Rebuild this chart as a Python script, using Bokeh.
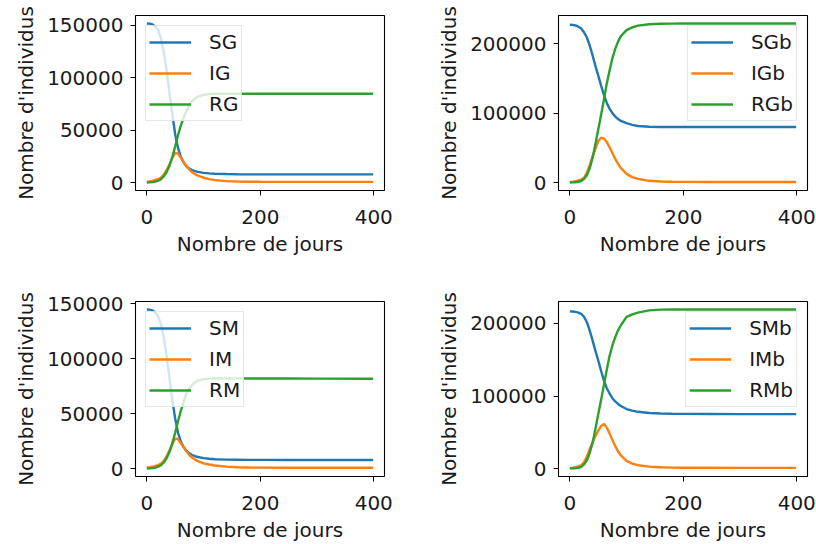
from bokeh.plotting import figure
from bokeh.layouts import column, row
from bokeh.models import Range1d, FixedTicker, BasicTickFormatter
from bokeh.embed import file_html
from bokeh.resources import INLINE

# ---- data ----
days = [0, 5, 10, 15, 20, 25, 30, 35, 40, 45, 50, 55, 60, 65, 70, 75, 80, 85, 90,
        100, 110, 120, 140, 160, 180, 200, 250, 300, 399]

SG = [151500, 151300, 150500, 148500, 145000, 137000, 124000, 106000, 85000, 65000,
      46000, 33000, 24500, 19000, 15300, 13200, 11800, 10800, 10100,
      9200, 8700, 8400, 8100, 7900, 7800, 7800, 7800, 7800, 7800]
IG = [800, 1100, 1600, 2400, 3200, 4800, 7500, 12000, 17500, 23500,
      28200, 27500, 23500, 19500, 15500, 12300, 9800, 8000, 6600,
      4600, 3200, 2300, 1400, 1000, 800, 700, 600, 600, 600]
RG = [0, 150, 400, 900, 1700, 3200, 6000, 10000, 16000, 24500,
      34500, 45000, 54500, 62000, 68500, 73500, 77500, 80000, 81800,
      83500, 84200, 84500, 84600, 84600, 84600, 84600, 84500, 84500, 84500]

SGb = [227300, 227100, 226300, 224500, 221800, 216500, 209000, 197500, 183500, 168500,
       154500, 140000, 126500, 115000, 106500, 100000, 95000, 91500, 88800,
       85500, 83000, 81500, 80400, 80100, 80000, 80000, 80000, 80000, 80000]
IGb = [1000, 1400, 2000, 3000, 4300, 6800, 14000, 25000, 37500, 48500,
       59500, 64500, 63500, 58500, 51000, 42500, 34000, 27000, 21000,
       12500, 7800, 5300, 2500, 1500, 1100, 900, 800, 800, 800]
RGb = [0, 200, 500, 1100, 2200, 5000, 10500, 20500, 35000, 55000,
       76000, 97000, 119000, 142000, 161000, 179000, 192500, 203000, 211000,
       219500, 223500, 226000, 228000, 228700, 229000, 229100, 229200, 229200, 229200]

SM = [144600, 144400, 143700, 141800, 138000, 131000, 119000, 102000, 82000, 62000,
      45500, 32500, 24500, 19500, 16000, 13800, 12300, 11200, 10500,
      9500, 8900, 8500, 8100, 8000, 7900, 7900, 7800, 7800, 7800]
IM = [900, 1200, 1600, 2300, 3100, 4500, 7000, 11200, 16500, 22500,
      27200, 26800, 23000, 19200, 15400, 12300, 9900, 8100, 6700,
      4700, 3700, 2800, 1700, 1200, 900, 800, 700, 700, 700]
RM = [0, 150, 400, 900, 1700, 3000, 5500, 9500, 15000, 23000,
      32500, 43000, 52500, 60500, 68500, 73000, 76000, 78500, 79800,
      81200, 81700, 81900, 82000, 82000, 81900, 81900, 81800, 81700, 81600]

SMb = [216600, 216400, 216000, 215000, 213300, 209000, 202000, 190500, 177000, 162500,
       149300, 135000, 121500, 111000, 103500, 97000, 92500, 89000, 86300,
       82000, 79800, 78200, 76500, 75800, 75500, 75300, 75100, 75000, 75000]
IMb = [900, 1300, 1900, 2900, 4500, 8500, 16500, 26500, 36000, 44500,
       52000, 58500, 61500, 56500, 48500, 39500, 31000, 23800, 18000,
       10500, 6800, 4600, 2600, 1700, 1300, 1100, 1000, 900, 900]
RMb = [0, 200, 500, 1100, 2300, 5800, 11000, 21500, 35000, 54000,
       74500, 94000, 115000, 135500, 155000, 169500, 181000, 190500, 197500,
       209000, 212500, 215000, 218000, 219000, 219300, 219300, 219300, 219300, 219300]

x_ticks = [0, 200, 400]
y_ticks_small = [0, 50000, 100000, 150000]
y_ticks_big = [0, 100000, 200000]

x_label = "Nombre de jours"
y_label = "Nombre d'individus"

COLORS = ["#1f77b4", "#ff7f0e", "#2ca02c"]
FONT = "DejaVu Sans"
FS = "20px"
TXT = "#1a1a1a"

panels = [
    (["SG", "IG", "RG"], [SG, IG, RG], "top_left", y_ticks_small,
     dict(width=394, height=258, min_border_left=135, min_border_right=10,
          min_border_top=15, min_border_bottom=64)),
    (["SGb", "IGb", "RGb"], [SGb, IGb, RGb], "top_right", y_ticks_big,
     dict(width=422, height=258, min_border_left=164, min_border_right=9,
          min_border_top=15, min_border_bottom=64)),
    (["SM", "IM", "RM"], [SM, IM, RM], "top_left", y_ticks_small,
     dict(width=394, height=286, min_border_left=135, min_border_right=10,
          min_border_top=43, min_border_bottom=64)),
    (["SMb", "IMb", "RMb"], [SMb, IMb, RMb], "top_right", y_ticks_big,
     dict(width=422, height=286, min_border_left=164, min_border_right=9,
          min_border_top=43, min_border_bottom=64)),
]


def make_panel(names, series, loc, yticks, geom):
    lo = min(min(s) for s in series)
    hi = max(max(s) for s in series)
    pad = 0.05 * (hi - lo)
    xpad = 0.05 * (max(days) - min(days))
    p = figure(output_backend="svg", toolbar_location=None,
               x_range=Range1d(min(days) - xpad, max(days) + xpad),
               y_range=Range1d(lo - pad, hi + pad),
               **geom)
    for name, s, c in zip(names, series, COLORS):
        p.line(days, s, line_color=c, line_width=2.4, legend_label=name)
    p.grid.visible = False
    p.outline_line_color = "black"
    p.outline_line_width = 1.1
    p.background_fill_color = "white"
    p.border_fill_color = "white"
    for ax, ticks, lab in ((p.xaxis, x_ticks, x_label), (p.yaxis, yticks, y_label)):
        ax.ticker = FixedTicker(ticks=ticks)
        ax.formatter = BasicTickFormatter(use_scientific=False)
        ax.axis_label = lab
        ax.axis_line_color = None
        ax.major_tick_line_color = "black"
        ax.major_tick_out = 5
        ax.major_tick_in = 0
        ax.minor_tick_line_color = None
        ax.major_label_text_font = FONT
        ax.major_label_text_font_size = FS
        ax.major_label_text_color = TXT
        ax.axis_label_text_font = FONT
        ax.axis_label_text_font_size = FS
        ax.axis_label_text_font_style = "normal"
        ax.axis_label_text_color = TXT
        ax.major_label_standoff = 7
        ax.axis_label_standoff = 6
    p.xaxis.major_label_standoff = 14
    p.xaxis.axis_label_standoff = 5
    p.yaxis.major_label_orientation = "horizontal"
    lg = p.legend[0]
    lg.location = loc
    lg.margin = 10
    lg.padding = 3
    lg.spacing = 5
    lg.glyph_width = 42
    lg.glyph_height = 26
    lg.label_height = 26
    lg.label_standoff = 18
    lg.label_text_font = FONT
    lg.label_text_font_size = FS
    lg.label_text_color = TXT
    lg.background_fill_color = "white"
    lg.background_fill_alpha = 0.8
    lg.border_line_color = "#cccccc"
    lg.border_line_width = 1
    return p


plots = [make_panel(*args) for args in panels]
layout = column(row(plots[0], plots[1]), row(plots[2], plots[3]))

open("out.html", "w").write(file_html(layout, INLINE))
